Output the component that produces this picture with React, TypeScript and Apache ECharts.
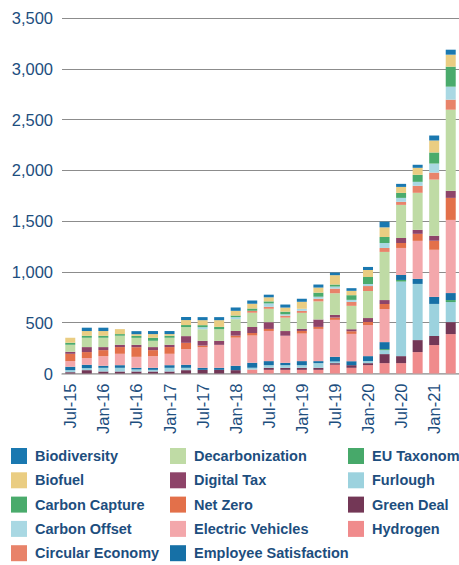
import React, { useEffect, useRef } from "react";
import * as echarts from "echarts";

const categories = [
  "Jul-15", "Oct-15", "Jan-16", "Apr-16", "Jul-16", "Oct-16", "Jan-17", "Apr-17",
  "Jul-17", "Oct-17", "Jan-18", "Apr-18", "Jul-18", "Oct-18", "Jan-19", "Apr-19",
  "Jul-19", "Oct-19", "Jan-20", "Apr-20", "Jul-20", "Oct-20", "Jan-21", "Apr-21",
];

const hydrogen = [0, 0, 0, 0, 0, 0, 0, 0, 0, 0, 0, 40, 36, 36, 36, 36, 86, 56, 82, 102, 102, 211, 280, 388];
const greenDeal = [13, 33, 20, 20, 20, 20, 20, 33, 36, 36, 33, 0, 20, 20, 20, 20, 16, 26, 20, 89, 69, 118, 89, 118];
const furlough = [20, 20, 36, 36, 20, 16, 36, 23, 0, 0, 0, 16, 26, 26, 26, 46, 16, 0, 20, 39, 734, 553, 316, 197];
const euTaxonomy = [0, 0, 0, 0, 0, 0, 0, 0, 0, 0, 0, 0, 0, 0, 0, 0, 0, 0, 0, 10, 16, 0, 0, 20];
const employeeSatisfaction = [33, 33, 20, 26, 16, 20, 26, 30, 20, 20, 43, 50, 40, 23, 40, 20, 46, 39, 49, 69, 49, 49, 69, 69];
const electricVehicles = [56, 66, 95, 112, 108, 115, 112, 154, 203, 226, 277, 267, 297, 267, 271, 317, 364, 269, 306, 326, 266, 375, 464, 720];
const netZero = [72, 59, 59, 66, 95, 59, 66, 62, 16, 0, 20, 26, 20, 0, 26, 20, 23, 26, 30, 49, 49, 69, 89, 217];
const digitalTax = [20, 49, 30, 23, 23, 30, 23, 66, 46, 39, 46, 59, 66, 46, 20, 73, 26, 20, 39, 39, 49, 39, 49, 69];
const decarbonization = [69, 92, 92, 89, 69, 62, 69, 89, 115, 115, 116, 139, 132, 132, 158, 178, 213, 230, 266, 474, 326, 365, 553, 799];
const circularEconomy = [0, 0, 0, 0, 0, 0, 0, 0, 0, 0, 0, 20, 20, 20, 20, 26, 46, 39, 49, 39, 30, 69, 69, 99];
const carbonOffset = [0, 0, 0, 0, 0, 0, 0, 0, 20, 0, 20, 0, 33, 13, 20, 20, 20, 20, 20, 49, 39, 39, 89, 128];
const carbonCapture = [20, 20, 20, 16, 20, 30, 20, 20, 20, 23, 16, 23, 20, 26, 0, 40, 20, 46, 69, 59, 49, 69, 109, 197];
const biofuel = [49, 46, 46, 49, 16, 36, 16, 49, 49, 66, 46, 46, 40, 40, 69, 50, 92, 43, 69, 95, 59, 69, 118, 118];
const biodiversity = [0, 33, 33, 0, 30, 30, 30, 30, 30, 30, 33, 33, 26, 30, 30, 30, 26, 26, 30, 56, 30, 30, 49, 49];

const yTicks = [0, 500, 1000, 1500, 2000, 2500, 3000, 3500];

// stack order: bottom to top
const seriesDefs: [string, number[], string][] = [
  ["Hydrogen", hydrogen, "#f08b8c"],
  ["Green Deal", greenDeal, "#733756"],
  ["Furlough", furlough, "#9cd2de"],
  ["EU Taxonomy", euTaxonomy, "#47a96a"],
  ["Employee Satisfaction", employeeSatisfaction, "#1670a6"],
  ["Electric Vehicles", electricVehicles, "#f3a7ab"],
  ["Net Zero", netZero, "#e3704a"],
  ["Digital Tax", digitalTax, "#8e4469"],
  ["Decarbonization", decarbonization, "#bfdba5"],
  ["Circular Economy", circularEconomy, "#e8836a"],
  ["Carbon Offset", carbonOffset, "#a9d8e3"],
  ["Carbon Capture", carbonCapture, "#4aab6c"],
  ["Biofuel", biofuel, "#eacd82"],
  ["Biodiversity", biodiversity, "#1a78b0"],
];

const legendCol1 = ["Biodiversity", "Biofuel", "Carbon Capture", "Carbon Offset", "Circular Economy"];
const legendCol2 = ["Decarbonization", "Digital Tax", "Net Zero", "Electric Vehicles", "Employee Satisfaction"];
const legendCol3 = ["EU Taxonomy", "Furlough", "Green Deal", "Hydrogen"];

const FONT = "'Liberation Sans', Arial, sans-serif";
const TEXT_COLOR = "#1d4e7e";

export default function App() {
  const ref = useRef<HTMLDivElement>(null);
  useEffect(() => {
    if (!ref.current) return;
    const chart = echarts.init(ref.current, undefined, { renderer: "svg" });
    const legendBase = {
      orient: "vertical",
      top: 448,
      height: 140,
      padding: 0,
      itemWidth: 16,
      itemHeight: 16,
      itemGap: 8.3,
      icon: "rect",
      selectedMode: false,
      textStyle: {
        fontFamily: FONT,
        fontWeight: "bold",
        fontSize: 14.5,
        lineHeight: 16,
        color: TEXT_COLOR,
        padding: [0, 0, 0, 3],
      },
    };
    chart.setOption({
      animation: false,
      backgroundColor: "#ffffff",
      grid: { left: 62, top: 18, width: 398, height: 355.5, containLabel: false },
      legend: [
        { ...legendBase, left: 11, data: legendCol1 },
        { ...legendBase, left: 170, data: legendCol2 },
        { ...legendBase, left: 348, data: legendCol3 },
      ],
      xAxis: {
        type: "category",
        data: categories,
        axisLine: { show: true, lineStyle: { color: "#b0b0b0", width: 1.5 } },
        axisTick: { show: false },
        axisLabel: {
          interval: 1,
          rotate: 90,
          margin: 10,
          fontFamily: FONT,
          fontSize: 16.5,
          color: TEXT_COLOR,
        },
      },
      yAxis: {
        type: "value",
        min: yTicks[0],
        max: yTicks[yTicks.length - 1],
        interval: 500,
        axisLine: { show: false },
        axisTick: { show: false },
        splitLine: { lineStyle: { color: "#8c8c8c", width: 1 } },
        axisLabel: {
          margin: 9,
          fontFamily: FONT,
          fontSize: 16.5,
          color: TEXT_COLOR,
          formatter: (v: number) => v.toLocaleString("en-US"),
        },
      },
      series: seriesDefs.map(([name, data, color]) => ({
        name,
        type: "bar",
        stack: "total",
        data,
        barWidth: 10,
        itemStyle: { color },
        emphasis: { disabled: true },
      })),
    });
    return () => chart.dispose();
  }, []);
  return (
    <div
      ref={ref}
      style={{ position: "absolute", left: 0, top: 0, width: 459, height: 565 }}
    />
  );
}
